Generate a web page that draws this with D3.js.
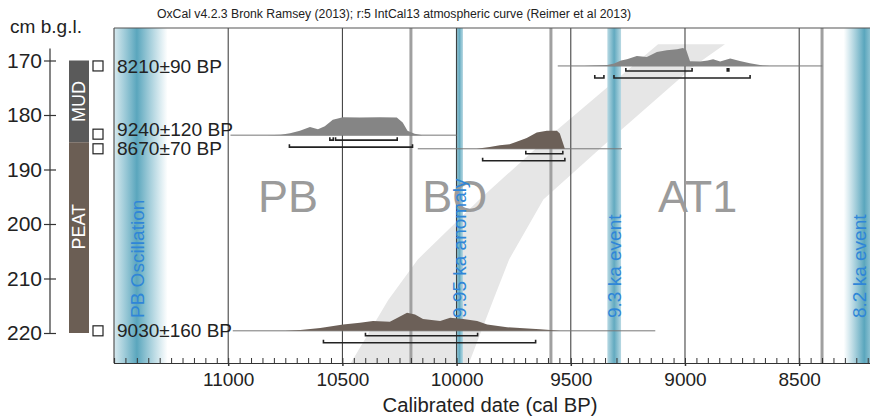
<!DOCTYPE html>
<html>
<head>
<meta charset="utf-8">
<script src="https://cdn.jsdelivr.net/npm/d3@7"></script>
<style>
  body { margin: 0; background: #fff; }
  text { font-family: "Liberation Sans", Arial, sans-serif; }
</style>
</head>
<body>
<div id="chart"></div>
<script>
// Radiocarbon dates (OxCal calibrated) plotted against depth
const sampleLabels = ["8210±90 BP", "9240±120 BP", "8670±70 BP", "9030±160 BP"];
const sampleDepths = [171, 183.7, 186.2, 219.6];
const sampleColors = ["#858585", "#858585", "#6c6058", "#6c6058"];

// probability curves, [cal BP, relative probability]
const probs8210 = [[9440,0],[9400,0.03],[9340,0.05],[9310,0.14],[9280,0.3],[9254,0.37],[9211,0.55],[9167,0.5],[9123,0.78],[9080,0.87],[9035,0.93],[9009,1],[8995,0.9],[8978,0.26],[8934,0.25],[8900,0.3],[8877,0.37],[8846,0.25],[8802,0.42],[8760,0.28],[8716,0.15],[8659,0.03],[8628,0]];
const probs9240 = [[10830,0],[10770,0.03],[10729,0.1],[10686,0.25],[10642,0.46],[10607,0.33],[10577,0.5],[10542,0.86],[10498,1],[10424,0.98],[10336,1],[10262,0.98],[10236,0.7],[10215,0.25],[10184,0.08],[10149,0]];
const probs8670 = [[9912,0],[9855,0.1],[9811,0.19],[9768,0.25],[9737,0.39],[9693,0.6],[9649,0.9],[9605,1],[9561,1],[9548,0.85],[9526,0]];
const probs9030 = [[10750,0],[10684,0.05],[10597,0.15],[10497,0.35],[10423,0.45],[10366,0.55],[10292,0.5],[10248,0.8],[10217,1],[10182,0.9],[10147,0.65],[10072,0.55],[10028,0.72],[9971,0.65],[9910,0.55],[9866,0.35],[9779,0.2],[9635,0.09],[9547,0]];
const sampleProbs = [probs8210, probs9240, probs8670, probs9030];

// 68.2% and 95.4% ranges
const ranges68 = [[[9259,8969],[8815,8808]], [[10555,10540],[10530,10260]], [[9697,9535]], [[10399,9908]]];
const ranges95 = [[[9395,9355],[9311,8715]], [[10732,10193]], [[9886,9526]], [[10583,9654]]];
// extent of thin line under each curve
const lineSpans = [[9557,8399], [10990,10000], [10170,9276], [10980,9130]];

// lithology
const units = ["MUD", "PEAT"];
const unitTop = [170, 185];
const unitBottom = [185, 220];
const unitLabelDepth = [177.5, 200.5];
const unitColors = ["#5a5a5a", "#6b5e54"];

// climate events
const events = ["PB Oscillation", "9.95 ka anomaly", "9.3 ka event", "8.2 ka event"];
const eventCenter = [11400, 9988, 9310, 8215];
const eventHalfWidth = [135, 16, 30, 90];

// pollen zones
const zones = ["PB", "BO", "AT1"];
const zoneStart = [10870, 10150, 9118];
const zoneBounds = [10200, 9587, 8400];

// age-depth envelope
const envDepth = [167, 171, 184.6, 195.5, 206.5, 214, 226];
const envOlder = [9118, 9230, 9612, 9900, 10170, 10300, 10470];
const envYounger = [8825, 8960, 9330, 9620, 9770, 9840, 9950];

const xTicks = [11000, 10500, 10000, 9500, 9000, 8500];
const depthTicks = [170, 180, 190, 200, 210, 220];

const W = 870, H = 418;
const plotTop = 28, plotBottom = 363, plotLeft = 114;

const svg = d3.select("#chart").append("svg")
  .attr("width", W).attr("height", H);

const x = d3.scaleLinear().domain([11500, 8190]).range([plotLeft, 870]);
const y = d3.scaleLinear().domain([170, 220]).range([60.5, 333]);
const h = d3.scaleLinear().domain([0, 1]).range([0, 18]);

svg.append("clipPath").attr("id", "plotclip")
  .append("rect").attr("x", plotLeft).attr("y", plotTop)
  .attr("width", W - plotLeft).attr("height", plotBottom - plotTop);

const plot = svg.append("g").attr("clip-path", "url(#plotclip)");

// title
svg.append("text")
  .attr("x", 394).attr("y", 18)
  .attr("text-anchor", "middle")
  .attr("font-size", 12).attr("fill", "#222")
  .attr("textLength", 474).attr("lengthAdjust", "spacingAndGlyphs")
  .text("OxCal v4.2.3 Bronk Ramsey (2013); r:5 IntCal13 atmospheric curve (Reimer et al 2013)");

// age-depth envelope
const envPts = envDepth.map((d, i) => [x(envOlder[i]), y(d)])
  .concat(envDepth.map((d, i) => [x(envYounger[i]), y(d)]).reverse());
plot.append("path")
  .attr("d", d3.line()(envPts) + "Z")
  .attr("fill", "#e6e6e6");

// event bands
const defs = svg.append("defs");
const grad = defs.append("linearGradient").attr("id", "band");
grad.append("stop").attr("offset", "0%").attr("stop-color", "#6aafc4").attr("stop-opacity", 0);
grad.append("stop").attr("offset", "50%").attr("stop-color", "#5aa6bd").attr("stop-opacity", 1);
grad.append("stop").attr("offset", "100%").attr("stop-color", "#6aafc4").attr("stop-opacity", 0);
const grad2 = defs.append("linearGradient").attr("id", "bandNarrow");
grad2.append("stop").attr("offset", "0%").attr("stop-color", "#b8d9e3");
grad2.append("stop").attr("offset", "50%").attr("stop-color", "#62aac0");
grad2.append("stop").attr("offset", "100%").attr("stop-color", "#b8d9e3");

plot.selectAll(".band")
  .data(events)
  .join("rect")
  .attr("x", (d, i) => x(eventCenter[i] + eventHalfWidth[i]))
  .attr("width", (d, i) => x(eventCenter[i] - eventHalfWidth[i]) - x(eventCenter[i] + eventHalfWidth[i]))
  .attr("y", plotTop).attr("height", plotBottom - plotTop)
  .attr("fill", (d, i) => eventHalfWidth[i] > 60 ? "url(#band)" : "url(#bandNarrow)");

// zone boundaries
plot.selectAll(".zb")
  .data(zoneBounds)
  .join("line")
  .attr("x1", d => x(d)).attr("x2", d => x(d))
  .attr("y1", plotTop).attr("y2", plotBottom)
  .attr("stroke", "#a0a0a0").attr("stroke-width", 3);

// grid lines at major ticks
plot.selectAll(".grid")
  .data(xTicks)
  .join("line")
  .attr("x1", d => x(d)).attr("x2", d => x(d))
  .attr("y1", plotTop).attr("y2", plotBottom)
  .attr("stroke", "#333").attr("stroke-width", 1);

// zone labels
plot.selectAll(".zone")
  .data(zones)
  .join("text")
  .attr("x", (d, i) => x(zoneStart[i]))
  .attr("y", 212)
  .attr("font-size", 45).attr("fill", "#9b9b9b")
  .text(d => d);

// frame
svg.append("line").attr("x1", plotLeft).attr("x2", W).attr("y1", plotTop).attr("y2", plotTop)
  .attr("stroke", "#555").attr("stroke-width", 1.2);
svg.append("line").attr("x1", plotLeft).attr("x2", plotLeft).attr("y1", plotTop).attr("y2", plotBottom)
  .attr("stroke", "#555").attr("stroke-width", 1.2);

// bottom axis: minor ticks every 50 years, pointing up
svg.append("g")
  .attr("transform", `translate(0,${plotBottom})`)
  .call(d3.axisBottom(x).tickValues(d3.range(8200, 11500, 50)).tickSize(-5).tickFormat(""))
  .call(g => g.select(".domain").attr("stroke", "#333").attr("stroke-width", 1.2))
  .call(g => g.selectAll(".tick line").attr("stroke", "#333"));

svg.append("g")
  .attr("transform", `translate(0,${plotBottom})`)
  .call(d3.axisBottom(x).tickValues(xTicks).tickSize(3).tickPadding(7).tickFormat(d3.format("d")))
  .call(g => g.select(".domain").remove())
  .call(g => g.selectAll(".tick line").attr("stroke", "#333").attr("stroke-width", 1.5))
  .call(g => g.selectAll(".tick text").attr("font-size", 19).attr("fill", "#222")
    .attr("font-family", "'Liberation Sans', Arial, sans-serif"));

svg.append("text")
  .attr("x", 490).attr("y", 412)
  .attr("text-anchor", "middle")
  .attr("font-size", 20).attr("fill", "#222")
  .attr("textLength", 215).attr("lengthAdjust", "spacingAndGlyphs")
  .text("Calibrated date (cal BP)");

// sample curves
sampleProbs.forEach((p, i) => {
  const base = y(sampleDepths[i]);
  const g = plot.append("g");
  g.append("line")
    .attr("x1", x(lineSpans[i][0])).attr("x2", x(lineSpans[i][1]))
    .attr("y1", base).attr("y2", base)
    .attr("stroke", "#777").attr("stroke-width", 1);
  g.append("path")
    .datum(p)
    .attr("d", d3.area().x(d => x(d[0])).y0(base).y1(d => base - h(d[1])))
    .attr("fill", sampleColors[i]);
  const bracket = (r, off) => {
    const yy = base + off;
    g.append("path")
      .attr("d", `M${x(r[0])},${yy - 3}V${yy}H${x(r[1])}V${yy - 3}`)
      .attr("fill", "none").attr("stroke", "#222").attr("stroke-width", 1.6);
  };
  ranges68[i].forEach(r => bracket(r, 5));
  ranges95[i].forEach(r => bracket(r, 12));
});

// event labels
svg.selectAll(".evlabel")
  .data(events)
  .join("text")
  .attr("transform", (d, i) => `translate(${Math.min(x(eventCenter[i]) + 7, 866)},318) rotate(-90)`)
  .attr("font-size", 19).attr("fill", "#2f86d8")
  .text(d => d);

// sample labels and markers
const labelWidths = [105, 116, 105, 115];
svg.selectAll(".slabel")
  .data(sampleLabels)
  .join("text")
  .attr("x", 117)
  .attr("y", (d, i) => y(sampleDepths[i]) + (i === 1 ? -6 : 0))
  .attr("dy", "0.36em")
  .attr("font-size", 18.5).attr("fill", "#222")
  .attr("textLength", (d, i) => labelWidths[i]).attr("lengthAdjust", "spacingAndGlyphs")
  .text(d => d);

svg.selectAll(".marker")
  .data(sampleDepths)
  .join("rect")
  .attr("x", 93).attr("y", (d, i) => y(d) - 5 + (i === 1 ? -1 : 0))
  .attr("width", 10).attr("height", 10)
  .attr("fill", "#fff").attr("stroke", "#222").attr("stroke-width", 1.2);

// lithology column
svg.selectAll(".unit")
  .data(units)
  .join("rect")
  .attr("x", 69).attr("width", 20)
  .attr("y", (d, i) => y(unitTop[i]))
  .attr("height", (d, i) => y(unitBottom[i]) - y(unitTop[i]))
  .attr("fill", (d, i) => unitColors[i]);

svg.selectAll(".unitlabel")
  .data(units)
  .join("text")
  .attr("transform", (d, i) => `translate(79,${y(unitLabelDepth[i])}) rotate(-90)`)
  .attr("text-anchor", "middle").attr("dy", "0.36em")
  .attr("font-size", 18).attr("fill", "#fff")
  .text(d => d);

// depth axis
svg.append("g")
  .attr("transform", "translate(50,0)")
  .call(d3.axisLeft(y).tickValues(depthTicks).tickSize(6).tickPadding(2))
  .call(g => g.select(".domain").remove())
  .call(g => g.selectAll(".tick line").attr("x1", 6).attr("stroke", "#333").attr("stroke-width", 1.2))
  .call(g => g.selectAll(".tick text").attr("font-size", 21).attr("fill", "#222")
    .attr("font-family", "'Liberation Sans', Arial, sans-serif"));
svg.append("line")
  .attr("x1", 50).attr("x2", 50)
  .attr("y1", y(167.8)).attr("y2", y(220))
  .attr("stroke", "#333").attr("stroke-width", 1.2);

svg.append("text")
  .attr("x", 10).attr("y", 33)
  .attr("font-size", 19).attr("fill", "#222")
  .attr("textLength", 72).attr("lengthAdjust", "spacingAndGlyphs")
  .text("cm b.g.l.");
</script>
</body>
</html>
